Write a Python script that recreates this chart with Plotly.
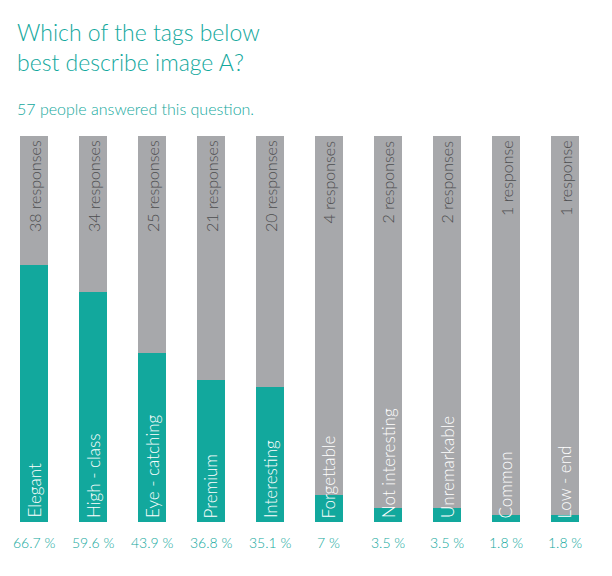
import plotly.graph_objects as go

# --- DATA ---
tags = ["Elegant", "High - class", "Eye - catching", "Premium", "Interesting",
        "Forgettable", "Not interesting", "Unremarkable", "Common", "Low - end"]
responses = [38, 34, 25, 21, 20, 4, 2, 2, 1, 1]
percents = [66.7, 59.6, 43.9, 36.8, 35.1, 7, 3.5, 3.5, 1.8, 1.8]
total_people = 57

TEAL = "#12a89d"
GRAY = "#a7a8ab"
FONT = "Lato"

x = list(range(len(tags)))
rest = [100 - p for p in percents]

fig = go.Figure()
fig.add_trace(go.Bar(x=x, y=percents, width=0.46, marker=dict(color=TEAL, line=dict(width=0)),
                     hoverinfo="skip", showlegend=False))
fig.add_trace(go.Bar(x=x, y=rest, width=0.46, marker=dict(color=GRAY, line=dict(width=0)),
                     hoverinfo="skip", showlegend=False))

annotations = []
for i, (tag, n, p) in enumerate(zip(tags, responses, percents)):
    # nom du tag, en blanc, en bas de la barre
    annotations.append(dict(x=i, y=0, text=tag, textangle=-90, showarrow=False,
                            xanchor="center", yanchor="bottom", yshift=2,
                            font=dict(family=FONT, size=17, color="white", weight=300)))
    # nombre de réponses en haut
    label = f"{n} response" + ("s" if n != 1 else "")
    annotations.append(dict(x=i, y=100, text=label, textangle=-90, showarrow=False,
                            xanchor="center", yanchor="top", yshift=-2,
                            font=dict(family=FONT, size=16, color="#4d4d4f", weight=300)))
    # pourcentage sous la barre
    annotations.append(dict(x=i, y=0, text=f"{p:g} %", showarrow=False,
                            xanchor="center", yanchor="top", yshift=-10,
                            font=dict(family=FONT, size=14, color=TEAL, weight=300)))

annotations.append(dict(xref="paper", yref="paper", x=0.012, y=1.31, xanchor="left", yanchor="top",
                        text="Which of the tags below<br>best describe image A?", align="left",
                        showarrow=False, font=dict(family=FONT, size=23, color=TEAL, weight=300)))
annotations.append(dict(xref="paper", yref="paper", x=0.012, y=1.0725, xanchor="left", yanchor="middle",
                        text=f"{total_people} people answered this question.", showarrow=False,
                        font=dict(family=FONT, size=16, color=TEAL, weight=300)))

# la page a une marge de 8 px : figure 604x568
fig.update_layout(
    barmode="stack",
    width=604, height=568,
    margin=dict(l=0, r=0, t=128, b=54),
    paper_bgcolor="white", plot_bgcolor="white",
    xaxis=dict(range=[-0.4407, 9.797], visible=False, fixedrange=True),
    yaxis=dict(range=[0, 100], visible=False, fixedrange=True),
    annotations=annotations,
)

fig.write_html("out.html")
